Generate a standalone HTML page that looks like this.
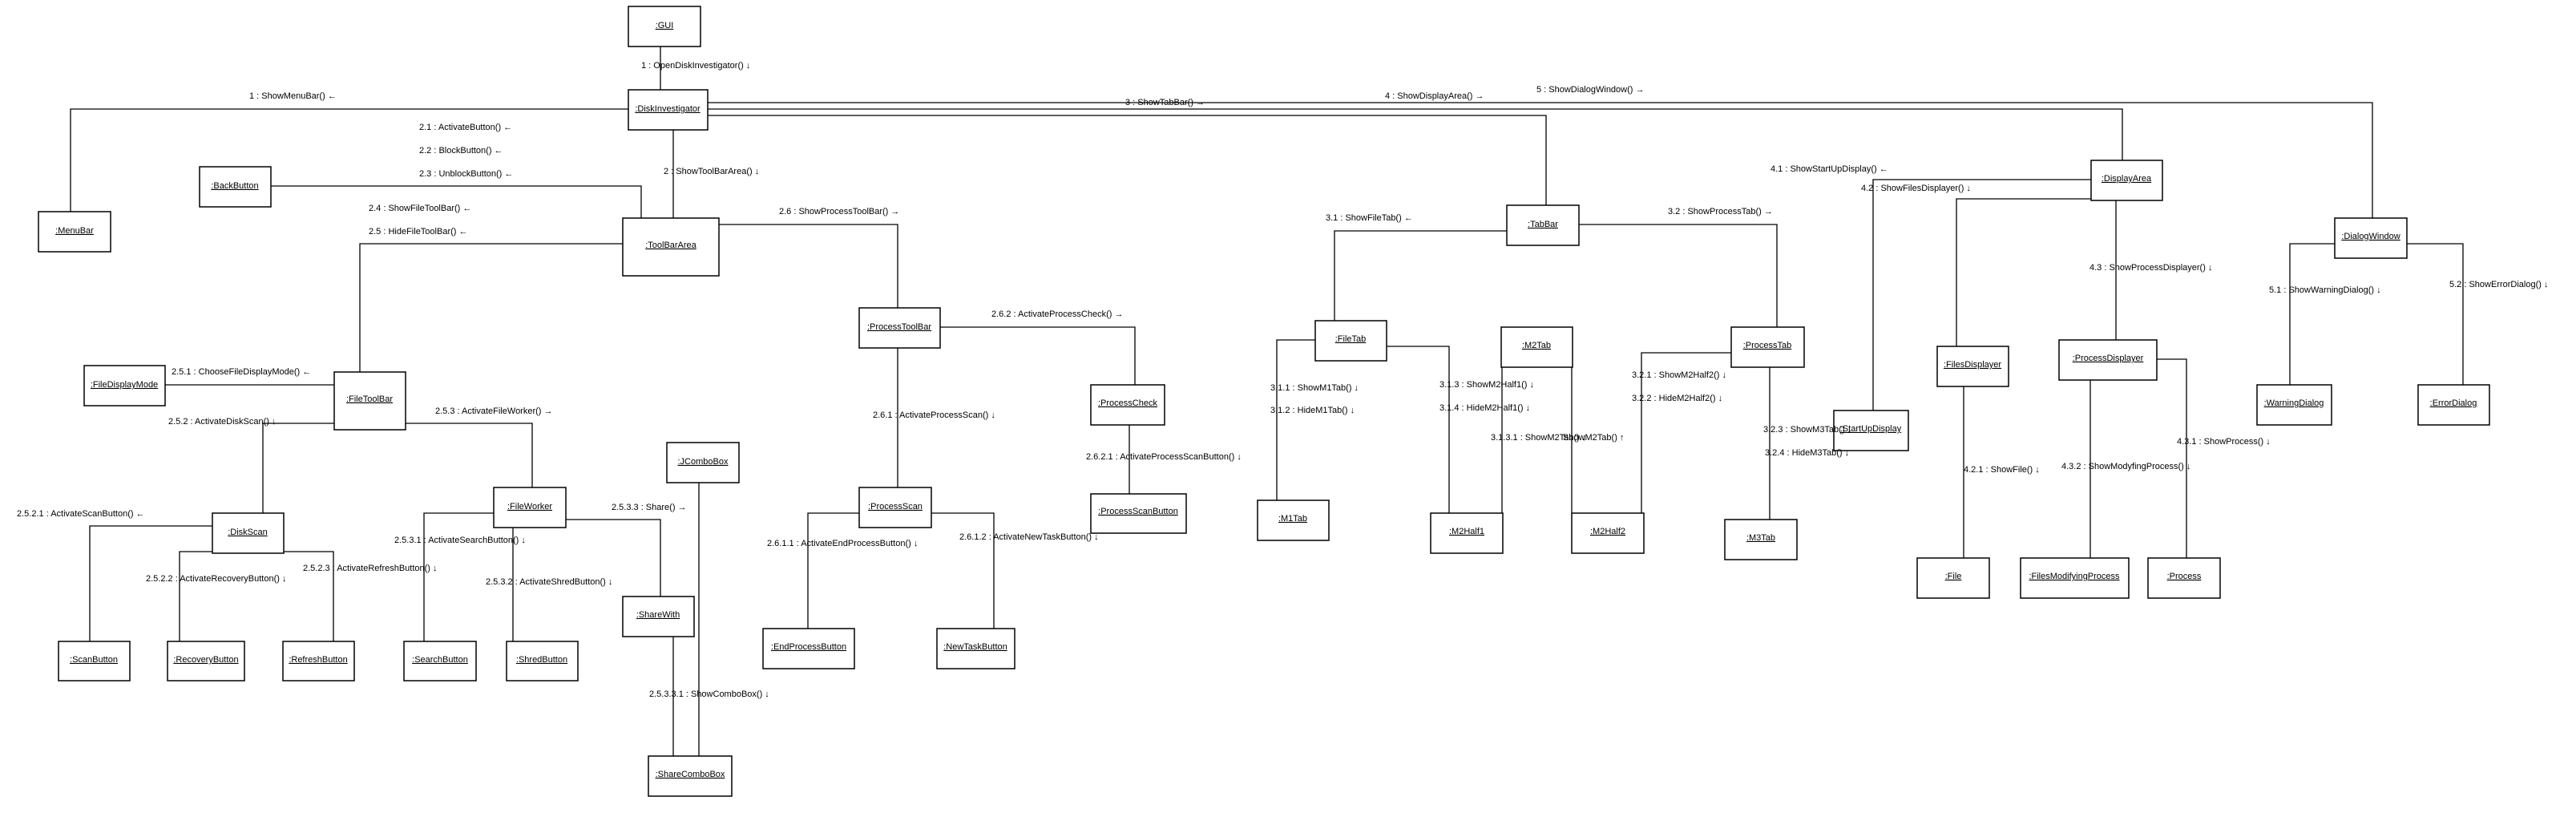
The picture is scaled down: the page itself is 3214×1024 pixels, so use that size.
<!DOCTYPE html>
<html><head><meta charset="utf-8"><style>
html,body{margin:0;padding:0;background:#fff}
svg{display:block}
text{font-family:"Liberation Sans",sans-serif;font-size:11px;fill:#000}
.b text{text-decoration:underline}
</style></head><body>
<svg width="3214" height="1024" viewBox="0 0 3214 1024" xmlns="http://www.w3.org/2000/svg">
<g fill="none" stroke="#000" stroke-width="1.3">
<polyline points="824,58 824,112"/>
<polyline points="784,136 88,136 88,264"/>
<polyline points="840,162 840,272"/>
<polyline points="338,232 800,232 800,272"/>
<polyline points="777,304 449,304 449,464"/>
<polyline points="206,480 417,480"/>
<polyline points="417,528 328,528 328,640"/>
<polyline points="506,528 664,528 664,608"/>
<polyline points="265,656 112,656 112,800"/>
<polyline points="265,688 224,688 224,800"/>
<polyline points="354,688 416,688 416,800"/>
<polyline points="616,640 529,640 529,800"/>
<polyline points="640,658 640,800"/>
<polyline points="706,648 824,648 824,744"/>
<polyline points="872,602 872,943"/>
<polyline points="840,794 840,943"/>
<polyline points="897,280 1120,280 1120,384"/>
<polyline points="1120,434 1120,608"/>
<polyline points="1072,640 1008,640 1008,784"/>
<polyline points="1162,640 1240,640 1240,784"/>
<polyline points="1173,408 1416,408 1416,480"/>
<polyline points="1409,530 1409,616"/>
<polyline points="883,144 1929,144 1929,256"/>
<polyline points="883,136 2648,136 2648,200"/>
<polyline points="883,128 2960,128 2960,272"/>
<polyline points="1880,288 1665,288 1665,400"/>
<polyline points="1970,280 2217,280 2217,408"/>
<polyline points="1641,424 1593,424 1593,624"/>
<polyline points="1730,432 1808,432 1808,640"/>
<polyline points="1874,458 1874,640"/>
<polyline points="1961,458 1961,640"/>
<polyline points="2160,440 2048,440 2048,640"/>
<polyline points="2208,458 2208,648"/>
<polyline points="2609,224 2337,224 2337,512"/>
<polyline points="2609,248 2441,248 2441,432"/>
<polyline points="2640,250 2640,424"/>
<polyline points="2450,482 2450,696"/>
<polyline points="2608,474 2608,696"/>
<polyline points="2691,448 2728,448 2728,696"/>
<polyline points="2913,304 2857,304 2857,480"/>
<polyline points="3003,304 3073,304 3073,480"/>
</g>
<g class="b" stroke="none">
<!-- boxes: shadow + box -->
<g id="boxes">
</g>
</g>
<g fill="#fff" stroke="#000" stroke-width="1.5">
<rect x="784" y="8" width="90" height="50"/>
<rect x="784" y="112" width="99" height="50"/>
<rect x="48" y="264" width="90" height="50"/>
<rect x="249" y="208" width="89" height="50"/>
<rect x="777" y="272" width="120" height="72"/>
<rect x="417" y="464" width="89" height="72"/>
<rect x="105" y="456" width="101" height="50"/>
<rect x="265" y="640" width="89" height="50"/>
<rect x="616" y="608" width="90" height="50"/>
<rect x="73" y="800" width="89" height="49"/>
<rect x="209" y="800" width="96" height="49"/>
<rect x="353" y="800" width="89" height="49"/>
<rect x="504" y="800" width="90" height="49"/>
<rect x="632" y="800" width="89" height="49"/>
<rect x="832" y="552" width="90" height="50"/>
<rect x="777" y="744" width="89" height="50"/>
<rect x="809" y="943" width="104" height="50"/>
<rect x="1072" y="384" width="101" height="50"/>
<rect x="1072" y="608" width="90" height="50"/>
<rect x="952" y="784" width="114" height="50"/>
<rect x="1169" y="784" width="97" height="50"/>
<rect x="1361" y="480" width="92" height="50"/>
<rect x="1361" y="616" width="119" height="49"/>
<rect x="1880" y="256" width="90" height="50"/>
<rect x="1641" y="400" width="89" height="50"/>
<rect x="1873" y="408" width="89" height="50"/>
<rect x="1569" y="624" width="89" height="50"/>
<rect x="1785" y="640" width="90" height="50"/>
<rect x="1961" y="640" width="90" height="50"/>
<rect x="2160" y="408" width="91" height="50"/>
<rect x="2152" y="648" width="90" height="50"/>
<rect x="2288" y="512" width="93" height="50"/>
<rect x="2609" y="200" width="89" height="50"/>
<rect x="2417" y="432" width="89" height="50"/>
<rect x="2569" y="424" width="122" height="50"/>
<rect x="2392" y="696" width="90" height="50"/>
<rect x="2521" y="696" width="135" height="50"/>
<rect x="2680" y="696" width="90" height="50"/>
<rect x="2913" y="272" width="90" height="50"/>
<rect x="2816" y="480" width="93" height="50"/>
<rect x="3017" y="480" width="89" height="50"/>
</g>
<g class="b" text-anchor="middle" dominant-baseline="middle">
<text x="829" y="32">:GUI</text>
<text x="833" y="136">:DiskInvestigator</text>
<text x="93" y="288">:MenuBar</text>
<text x="293" y="232">:BackButton</text>
<text x="837" y="306">:ToolBarArea</text>
<text x="461" y="498">:FileToolBar</text>
<text x="155" y="480">:FileDisplayMode</text>
<text x="309" y="664">:DiskScan</text>
<text x="661" y="632">:FileWorker</text>
<text x="117" y="823">:ScanButton</text>
<text x="257" y="823">:RecoveryButton</text>
<text x="397" y="823">:RefreshButton</text>
<text x="549" y="823">:SearchButton</text>
<text x="676" y="823">:ShredButton</text>
<text x="877" y="576">:JComboBox</text>
<text x="821" y="767">:ShareWith</text>
<text x="861" y="966">:ShareComboBox</text>
<text x="1122" y="408">:ProcessToolBar</text>
<text x="1117" y="632">:ProcessScan</text>
<text x="1009" y="807">:EndProcessButton</text>
<text x="1217" y="807">:NewTaskButton</text>
<text x="1407" y="503">:ProcessCheck</text>
<text x="1420" y="638">:ProcessScanButton</text>
<text x="1925" y="280">:TabBar</text>
<text x="1685" y="423">:FileTab</text>
<text x="1917" y="431">:M2Tab</text>
<text x="1613" y="647">:M1Tab</text>
<text x="1830" y="663">:M2Half1</text>
<text x="2006" y="663">:M2Half2</text>
<text x="2205" y="431">:ProcessTab</text>
<text x="2197" y="671">:M3Tab</text>
<text x="2334" y="535">:StartUpDisplay</text>
<text x="2653" y="223">:DisplayArea</text>
<text x="2461" y="455">:FilesDisplayer</text>
<text x="2630" y="447">:ProcessDisplayer</text>
<text x="2437" y="719">:File</text>
<text x="2588" y="719">:FilesModifyingProcess</text>
<text x="2725" y="719">:Process</text>
<text x="2958" y="295">:DialogWindow</text>
<text x="2862" y="503">:WarningDialog</text>
<text x="3061" y="503">:ErrorDialog</text>
</g>
<g dominant-baseline="middle">
<text x="800" y="82">1 : OpenDiskInvestigator() ↓</text>
<text x="311" y="120">1 : ShowMenuBar() ←</text>
<text x="828" y="214">2 : ShowToolBarArea() ↓</text>
<text x="523" y="159">2.1 : ActivateButton() ←</text>
<text x="523" y="188">2.2 : BlockButton() ←</text>
<text x="523" y="217">2.3 : UnblockButton() ←</text>
<text x="460" y="260">2.4 : ShowFileToolBar() ←</text>
<text x="460" y="289">2.5 : HideFileToolBar() ←</text>
<text x="214" y="464">2.5.1 : ChooseFileDisplayMode() ←</text>
<text x="210" y="526">2.5.2 : ActivateDiskScan() ↓</text>
<text x="543" y="513">2.5.3 : ActivateFileWorker() →</text>
<text x="21" y="641">2.5.2.1 : ActivateScanButton() ←</text>
<text x="182" y="722">2.5.2.2 : ActivateRecoveryButton() ↓</text>
<text x="378" y="709">2.5.2.3 : ActivateRefreshButton() ↓</text>
<text x="492" y="674">2.5.3.1 : ActivateSearchButton() ↓</text>
<text x="606" y="726">2.5.3.2 : ActivateShredButton() ↓</text>
<text x="763" y="633">2.5.3.3 : Share() →</text>
<text x="810" y="866">2.5.3.3.1 : ShowComboBox() ↓</text>
<text x="972" y="264">2.6 : ShowProcessToolBar() →</text>
<text x="1089" y="518">2.6.1 : ActivateProcessScan() ↓</text>
<text x="957" y="678">2.6.1.1 : ActivateEndProcessButton() ↓</text>
<text x="1197" y="670">2.6.1.2 : ActivateNewTaskButton() ↓</text>
<text x="1237" y="392">2.6.2 : ActivateProcessCheck() →</text>
<text x="1355" y="570">2.6.2.1 : ActivateProcessScanButton() ↓</text>
<text x="1404" y="128">3 : ShowTabBar() →</text>
<text x="1728" y="120">4 : ShowDisplayArea() →</text>
<text x="1917" y="112">5 : ShowDialogWindow() →</text>
<text x="1654" y="272">3.1 : ShowFileTab() ←</text>
<text x="2081" y="264">3.2 : ShowProcessTab() →</text>
<text x="1585" y="484">3.1.1 : ShowM1Tab() ↓</text>
<text x="1585" y="512">3.1.2 : HideM1Tab() ↓</text>
<text x="1796" y="480">3.1.3 : ShowM2Half1() ↓</text>
<text x="1796" y="509">3.1.4 : HideM2Half1() ↓</text>
<text x="1860" y="546">3.1.3.1 : ShowM2Tab() ↓</text>
<text x="1950" y="546">ShowM2Tab() ↑</text>
<text x="2036" y="468">3.2.1 : ShowM2Half2() ↓</text>
<text x="2036" y="497">3.2.2 : HideM2Half2() ↓</text>
<text x="2200" y="536">3.2.3 : ShowM3Tab() ↓</text>
<text x="2202" y="565">3.2.4 : HideM3Tab() ↓</text>
<text x="2209" y="211">4.1 : ShowStartUpDisplay() ←</text>
<text x="2322" y="235">4.2 : ShowFilesDisplayer() ↓</text>
<text x="2607" y="334">4.3 : ShowProcessDisplayer() ↓</text>
<text x="2450" y="586">4.2.1 : ShowFile() ↓</text>
<text x="2572" y="582">4.3.2 : ShowModyfingProcess() ↓</text>
<text x="2716" y="551">4.3.1 : ShowProcess() ↓</text>
<text x="2831" y="362">5.1 : ShowWarningDialog() ↓</text>
<text x="3056" y="355">5.2 : ShowErrorDialog() ↓</text>
</g>
</svg>
</body></html>
